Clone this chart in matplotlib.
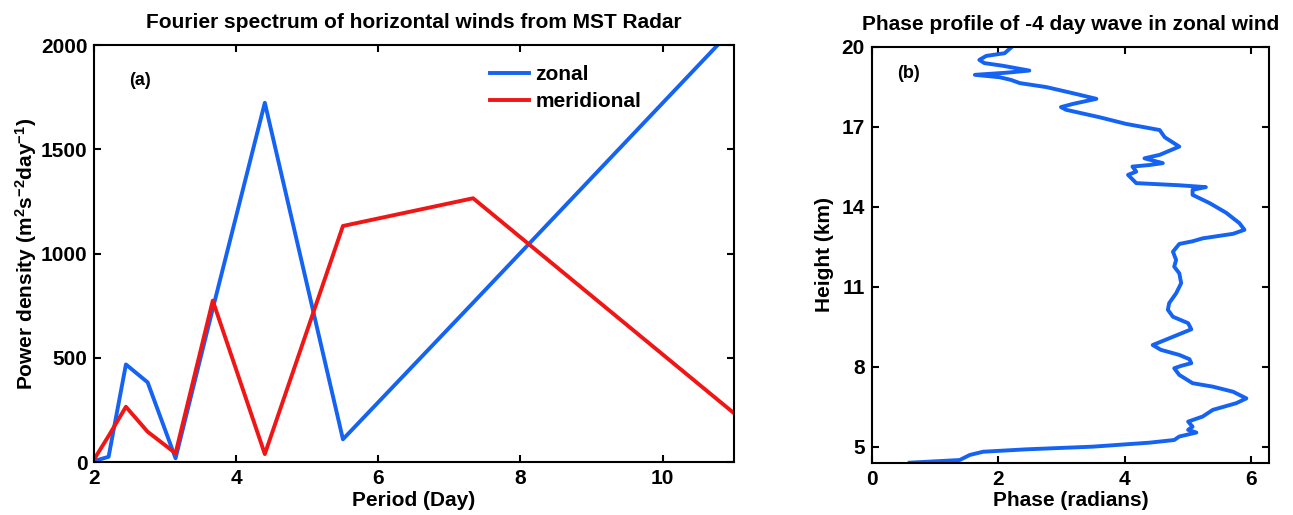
import numpy as np
import matplotlib
matplotlib.use("Agg")
import matplotlib.pyplot as plt

plt.rcParams['font.family'] = ['Liberation Sans', 'DejaVu Sans']
plt.rcParams['font.weight'] = 'bold'
plt.rcParams['mathtext.fontset'] = 'custom'
plt.rcParams['mathtext.rm'] = 'Liberation Sans:bold'
plt.rcParams['mathtext.bf'] = 'Liberation Sans:bold'
plt.rcParams['mathtext.default'] = 'bf'

# Panel (a): Fourier spectrum
period = [2.0, 2.2, 2.444, 2.75, 3.143, 3.667, 4.4, 5.5, 7.333, 11.0]
zonal = [5, 25, 468, 382, 18, 735, 1723, 109, 764, 2080]
meridional = [15, 125, 265, 145, 42, 774, 38, 1132, 1265, 236]

# Panel (b): phase profile
phase = [2.23, 2.10, 1.81, 1.70, 1.78, 2.07, 2.49, 2.13, 1.63, 2.02, 2.20, 2.34,
         2.76, 3.18, 3.55, 3.18, 2.99, 3.07, 3.60, 4.02, 4.39, 4.55, 4.63, 4.86,
         4.55, 4.31, 4.60, 4.39, 4.12, 4.18, 4.05, 4.18, 4.86, 5.28, 5.07, 5.07,
         5.34, 5.60, 5.81, 5.89, 5.71, 5.23, 5.07, 4.86, 4.76, 4.81, 4.78, 4.86,
         4.89, 4.81, 4.70, 4.68, 4.76, 5.00, 5.05, 4.76, 4.44, 4.57, 4.86, 5.02,
         5.05, 4.89, 4.78, 4.86, 5.07, 5.39, 5.71, 5.92, 5.76, 5.39, 5.23, 5.00,
         5.07, 5.00, 5.13, 4.86, 4.78, 4.39, 3.49, 2.44, 1.76, 1.55, 1.39, 0.60]
height = [20.02, 19.75, 19.65, 19.50, 19.38, 19.28, 19.10, 19.02, 18.94, 18.85, 18.75, 18.63,
          18.48, 18.25, 18.04, 17.85, 17.73, 17.63, 17.35, 17.10, 16.94, 16.87, 16.60, 16.25,
          15.94, 15.81, 15.63, 15.56, 15.50, 15.31, 15.19, 14.88, 14.80, 14.73, 14.63, 14.44,
          14.13, 13.77, 13.38, 13.13, 12.98, 12.81, 12.70, 12.60, 12.31, 12.00, 11.75, 11.50,
          11.13, 10.75, 10.38, 10.13, 9.87, 9.63, 9.40, 9.12, 8.81, 8.63, 8.44, 8.28,
          8.13, 8.03, 7.94, 7.69, 7.38, 7.25, 7.06, 6.81, 6.63, 6.38, 6.13, 5.94,
          5.75, 5.63, 5.53, 5.38, 5.25, 5.15, 5.00, 4.90, 4.81, 4.69, 4.50, 4.40]

BLUE = '#1463F2'
RED = '#F01616'
FS = 15

fig = plt.figure(figsize=(12.93, 5.15), dpi=100)
ax1 = fig.add_axes([0.073, 0.1029, 0.4943, 0.8097])
ax2 = fig.add_axes([0.6742, 0.1016, 0.3075, 0.808])

for ax in (ax1, ax2):
    for sp in ax.spines.values():
        sp.set_linewidth(1.5)
    ax.tick_params(direction='in', length=5, width=1.5, top=True, right=True,
                   labelsize=FS, pad=5)

ax1.plot(period, zonal, color=BLUE, lw=2.8, label='zonal')
ax1.plot(period, meridional, color=RED, lw=2.8, label='meridional')
ax1.set_xlim(2, 11)
ax1.set_ylim(0, 2000)
ax1.set_xticks([2, 4, 6, 8, 10])
ax1.set_yticks([0, 500, 1000, 1500, 2000])
ax1.set_title('Fourier spectrum of horizontal winds from MST Radar', fontsize=FS,
              fontweight='bold', pad=12)
ax1.set_xlabel('Period (Day)', fontsize=FS, fontweight='bold', labelpad=2)
ax1.set_ylabel(r'Power density (m$^{2}$s$^{-2}$day$^{-1}$)',
               fontsize=FS, fontweight='bold', labelpad=1)
ax1.text(0.055, 0.915, '(a)', transform=ax1.transAxes, fontsize=13, fontweight='bold',
         ha='left', va='center')
leg = ax1.legend(loc='upper left', bbox_to_anchor=(0.612, 0.962), frameon=False,
                 fontsize=FS, handlelength=1.9, handletextpad=0.3, labelspacing=0.4,
                 borderaxespad=0, borderpad=0.2)
for t in leg.get_texts():
    t.set_fontweight('bold')

ax2.plot(phase, height, color=BLUE, lw=2.8)
ax2.set_xlim(0, 2 * np.pi)
ax2.set_ylim(4.4, 20)
ax2.set_xticks([0, 2, 4, 6])
ax2.set_yticks([5, 8, 11, 14, 17, 20])
ax2.set_title('Phase profile of -4 day wave in zonal wind', fontsize=FS,
              fontweight='bold', pad=12)
ax2.set_xlabel('Phase (radians)', fontsize=FS, fontweight='bold', labelpad=2)
ax2.set_ylabel('Height (km)', fontsize=FS, fontweight='bold', labelpad=5)
ax2.text(0.063, 0.935, '(b)', transform=ax2.transAxes, fontsize=13, fontweight='bold',
         ha='left', va='center')

fig.savefig('out.png', dpi=100)
